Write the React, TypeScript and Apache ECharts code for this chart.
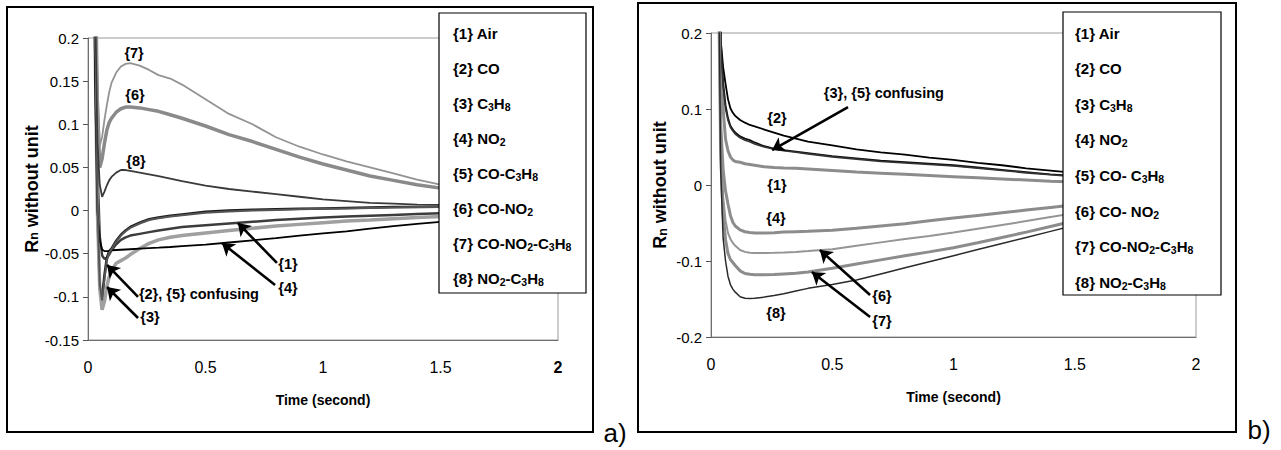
import React, { useEffect, useRef } from 'react';
import * as echarts from 'echarts';

const SANS = "'Liberation Sans', Arial, sans-serif";

// time samples (s), shared by all curves
const TIME = [0.02, 0.03, 0.04, 0.05, 0.06, 0.07, 0.08, 0.09, 0.10, 0.12, 0.14, 0.16, 0.18, 0.22, 0.26, 0.3, 0.35, 0.4, 0.5, 0.6, 0.7, 0.8, 0.9, 1.0, 1.1, 1.2, 1.3, 1.4, 1.5, 1.75, 2.0];

// ---------- panel a ----------
const A_AIR = [0.5, 0.22, 0.05, -0.03, -0.052, -0.056, -0.055, -0.051, -0.046, -0.039, -0.034, -0.031, -0.029, -0.027, -0.025, -0.023, -0.021, -0.019, -0.017, -0.015, -0.013, -0.011, -0.0095, -0.008, -0.007, -0.006, -0.005, -0.004, -0.003, -0.0015, 0.0];
const A_CO = [0.5, 0.2, 0.0, -0.09, -0.1, -0.075, -0.055, -0.047, -0.044, -0.035, -0.028, -0.023, -0.019, -0.014, -0.010, -0.008, -0.006, -0.0045, -0.0015, 0.0, 0.001, 0.0015, 0.002, 0.0025, 0.003, 0.0035, 0.004, 0.0042, 0.0045, 0.005, 0.005];
const A_C3H8 = [0.5, 0.2, 0.0, -0.09, -0.115, -0.105, -0.088, -0.077, -0.07, -0.061, -0.058, -0.055, -0.051, -0.044, -0.038, -0.034, -0.031, -0.029, -0.026, -0.023, -0.0205, -0.018, -0.016, -0.014, -0.012, -0.011, -0.0095, -0.008, -0.007, -0.005, -0.003];
const A_NO2 = [0.5, 0.15, 0.0, -0.035, -0.045, -0.047, -0.047, -0.047, -0.046, -0.0457, -0.0454, -0.0451, -0.0448, -0.0442, -0.0436, -0.043, -0.0422, -0.0413, -0.0395, -0.037, -0.0345, -0.032, -0.029, -0.0265, -0.024, -0.021, -0.018, -0.0155, -0.013, -0.008, -0.004];
const A_CO_C3H8 = [0.5, 0.21, 0.01, -0.085, -0.104, -0.08, -0.058, -0.049, -0.045, -0.036, -0.029, -0.024, -0.020, -0.015, -0.011, -0.009, -0.007, -0.0055, -0.0025, -0.001, 0.0, 0.0008, 0.0015, 0.002, 0.0025, 0.003, 0.0035, 0.004, 0.0042, 0.0046, 0.0048];
const A_CO_NO2 = [0.5, 0.3, 0.12, 0.05, 0.06, 0.078, 0.093, 0.102, 0.107, 0.114, 0.118, 0.120, 0.120, 0.119, 0.117, 0.115, 0.111, 0.107, 0.098, 0.088, 0.080, 0.071, 0.062, 0.054, 0.047, 0.040, 0.035, 0.030, 0.026, 0.016, 0.009];
const A_CO_NO2_C3H8 = [0.5, 0.3, 0.15, 0.075, 0.085, 0.105, 0.122, 0.137, 0.148, 0.160, 0.167, 0.170, 0.171, 0.168, 0.163, 0.157, 0.153, 0.146, 0.129, 0.112, 0.100, 0.085, 0.074, 0.065, 0.057, 0.050, 0.043, 0.036, 0.030, 0.018, 0.010];
const A_NO2_C3H8 = [0.5, 0.25, 0.08, 0.03, 0.016, 0.022, 0.029, 0.035, 0.039, 0.044, 0.047, 0.047, 0.046, 0.044, 0.042, 0.040, 0.037, 0.034, 0.029, 0.025, 0.022, 0.019, 0.016, 0.013, 0.011, 0.009, 0.008, 0.007, 0.0065, 0.004, 0.002];

// ---------- panel b ----------
const B_AIR = [0.6, 0.4, 0.17, 0.1, 0.06, 0.045, 0.037, 0.033, 0.031, 0.030, 0.028, 0.027, 0.026, 0.024, 0.023, 0.0225, 0.022, 0.021, 0.019, 0.017, 0.0155, 0.014, 0.0125, 0.011, 0.0095, 0.008, 0.0065, 0.005, 0.004, 0.002, 0.001];
const B_CO = [0.6, 0.4, 0.19, 0.155, 0.133, 0.113, 0.101, 0.095, 0.091, 0.0855, 0.082, 0.079, 0.077, 0.073, 0.069, 0.065, 0.061, 0.057, 0.052, 0.047, 0.043, 0.040, 0.036, 0.033, 0.029, 0.026, 0.022, 0.019, 0.016, 0.010, 0.006];
const B_C3H8 = [0.6, 0.4, 0.19, 0.135, 0.105, 0.088, 0.078, 0.073, 0.069, 0.064, 0.061, 0.059, 0.056, 0.051, 0.048, 0.046, 0.044, 0.042, 0.038, 0.035, 0.032, 0.030, 0.028, 0.026, 0.023, 0.020, 0.017, 0.014, 0.012, 0.007, 0.004];
const B_NO2 = [0.6, 0.35, 0.08, 0.02, -0.008, -0.025, -0.04, -0.049, -0.054, -0.059, -0.0615, -0.0625, -0.063, -0.063, -0.0628, -0.062, -0.0615, -0.061, -0.0595, -0.057, -0.054, -0.051, -0.047, -0.0435, -0.040, -0.0365, -0.033, -0.0295, -0.026, -0.018, -0.011];
const B_CO_C3H8 = [0.6, 0.4, 0.18, 0.13, 0.1, 0.085, 0.076, 0.071, 0.067, 0.062, 0.059, 0.057, 0.054, 0.050, 0.047, 0.045, 0.043, 0.041, 0.037, 0.034, 0.031, 0.029, 0.027, 0.025, 0.022, 0.019, 0.016, 0.0135, 0.011, 0.0065, 0.0035];
const B_CO_NO2 = [0.6, 0.4, 0.06, -0.015, -0.047, -0.063, -0.071, -0.076, -0.080, -0.0855, -0.088, -0.089, -0.0895, -0.0895, -0.0893, -0.0888, -0.088, -0.087, -0.0845, -0.080, -0.0755, -0.071, -0.067, -0.0625, -0.0575, -0.0525, -0.0475, -0.042, -0.037, -0.026, -0.016];
const B_CO_NO2_C3H8 = [0.6, 0.3, 0.04, -0.04, -0.072, -0.09, -0.098, -0.102, -0.106, -0.113, -0.1165, -0.1175, -0.118, -0.118, -0.1178, -0.117, -0.1162, -0.1145, -0.1095, -0.104, -0.0985, -0.093, -0.088, -0.0825, -0.076, -0.069, -0.062, -0.0545, -0.047, -0.032, -0.02];
const B_NO2_C3H8 = [0.6, 0.35, 0.02, -0.07, -0.1, -0.12, -0.131, -0.137, -0.141, -0.147, -0.149, -0.1495, -0.149, -0.1475, -0.1455, -0.143, -0.1395, -0.136, -0.131, -0.125, -0.117, -0.109, -0.101, -0.093, -0.085, -0.077, -0.069, -0.061, -0.053, -0.036, -0.022];

// series names and their legend labels (rich text for subscripts)
const NAMES_A = ['{1} Air', '{2} CO', '{3} C3H8', '{4} NO2', '{5} CO-C3H8', '{6} CO-NO2', '{7} CO-NO2-C3H8', '{8} NO2-C3H8'];
const LABELS_A = ['{1} Air', '{2} CO', '{3} C{s|3}H{s|8}', '{4} NO{s|2}', '{5} CO-C{s|3}H{s|8}', '{6} CO-NO{s|2}', '{7} CO-NO{s|2}-C{s|3}H{s|8}', '{8} NO{s|2}-C{s|3}H{s|8}'];
const NAMES_B = ['{1} Air', '{2} CO', '{3} C3H8', '{4} NO2', '{5} CO- C3H8', '{6} CO- NO2', '{7} CO-NO2-C3H8', '{8} NO2-C3H8'];
const LABELS_B = ['{1} Air', '{2} CO', '{3} C{s|3}H{s|8}', '{4} NO{s|2}', '{5} CO- C{s|3}H{s|8}', '{6} CO- NO{s|2}', '{7} CO-NO{s|2}-C{s|3}H{s|8}', '{8} NO{s|2}-C{s|3}H{s|8}'];

const VALUES_A = [A_AIR, A_CO, A_C3H8, A_NO2, A_CO_C3H8, A_CO_NO2, A_CO_NO2_C3H8, A_NO2_C3H8];
const VALUES_B = [B_AIR, B_CO, B_C3H8, B_NO2, B_CO_C3H8, B_CO_NO2, B_CO_NO2_C3H8, B_NO2_C3H8];

// axis ranges / ticks
const X_MIN = 0, X_MAX = 2, X_STEP = 0.5;
const YA_MIN = -0.15, YA_MAX = 0.2, YA_STEP = 0.05;
const YB_MIN = -0.2, YB_MAX = 0.2, YB_STEP = 0.1;

// annotations in data units: arrows [tFrom, vFrom, tTo, vTo], labels [text, t, v]
const ARROWS_A = [[0.804, -0.0607, 0.638, -0.0144], [0.796, -0.0862, 0.570, -0.0376], [0.213, -0.100, 0.081, -0.063], [0.213, -0.1245, 0.081, -0.0886]];
const NOTES_A: [string, number, number][] = [['{7}', 0.196, 0.1826], ['{6}', 0.2, 0.134], ['{8}', 0.204, 0.0575], ['{1}', 0.851, -0.0619], ['{4}', 0.851, -0.0897], ['{2}, {5} confusing', 0.472, -0.0967], ['{3}', 0.264, -0.1233]];
const ARROWS_B = [[0.565, 0.1026, 0.252, 0.046], [0.656, -0.1447, 0.449, -0.0855], [0.656, -0.1737, 0.416, -0.1145]];
const NOTES_B: [string, number, number][] = [['{3}, {5} confusing', 0.713, 0.121], ['{2}', 0.272, 0.088], ['{1}', 0.272, 0.0], ['{4}', 0.268, -0.0434], ['{8}', 0.268, -0.168], ['{6}', 0.705, -0.146], ['{7}', 0.705, -0.179]];

const STYLE_A = [
  { color: '#3c3c3c', width: 2.5 },
  { color: '#1e1e1e', width: 2.5 },
  { color: '#a0a0a0', width: 3.5 },
  { color: '#000000', width: 1.8 },
  { color: '#555555', width: 2 },
  { color: '#8a8a8a', width: 3.5 },
  { color: '#939393', width: 1.8 },
  { color: '#3a3a3a', width: 1.8 },
];
const STYLE_B = [
  { color: '#8c8c8c', width: 3 },
  { color: '#000000', width: 1.8 },
  { color: '#111111', width: 1.8 },
  { color: '#8c8c8c', width: 3 },
  { color: '#333333', width: 1.6 },
  { color: '#959595', width: 2 },
  { color: '#8c8c8c', width: 3 },
  { color: '#2a2a2a', width: 1.5 },
];

function buildSeries(names: string[], values: number[][], styles: any[], axisIndex: number) {
  return names.map((name, i) => ({
    type: 'line',
    name,
    xAxisIndex: axisIndex,
    yAxisIndex: axisIndex,
    data: TIME.map((t, k) => [t, values[i][k]]),
    showSymbol: false,
    symbol: 'none',
    silent: true,
    clip: true,
    z: 2,
    lineStyle: { color: styles[i].color, width: styles[i].width },
    itemStyle: { color: styles[i].color },
  }));
}

function annotSeries(arrows: number[][], notes: [string, number, number][], axisIndex: number) {
  return {
    type: 'line',
    name: 'annot' + axisIndex,
    xAxisIndex: axisIndex,
    yAxisIndex: axisIndex,
    data: [],
    silent: true,
    z: 3,
    markLine: {
      silent: true,
      symbol: ['none', 'arrow'],
      symbolSize: 12,
      lineStyle: { color: '#000', width: 2.6, type: 'solid' },
      itemStyle: { color: '#000' },
      label: { show: false },
      emphasis: { disabled: true },
      data: arrows.map((a) => [{ coord: [a[0], a[1]] }, { coord: [a[2], a[3]] }]),
    },
    markPoint: {
      silent: true,
      symbol: 'circle',
      symbolSize: 0,
      itemStyle: { color: 'transparent' },
      label: {
        show: true,
        position: 'inside',
        formatter: (p: any) => p.name,
        color: '#000',
        fontFamily: SANS,
        fontWeight: 'bold',
        fontSize: 14.5,
      },
      data: notes.map((n) => ({ name: n[0], coord: [n[1], n[2]] })),
    },
  };
}

const legendText = {
  fontFamily: SANS,
  fontWeight: 'bold' as const,
  fontSize: 15,
  color: '#000',
  lineHeight: 18,
  rich: {
    s: { fontFamily: SANS, fontWeight: 'bold', fontSize: 10.5, color: '#000', verticalAlign: 'bottom', lineHeight: 6 },
  },
};

const axisNameStyle = {
  fontFamily: SANS,
  fontWeight: 'bold' as const,
  fontSize: 18,
  color: '#000',
  rich: {
    s: { fontFamily: SANS, fontWeight: 'bold', fontSize: 12.5, color: '#000', verticalAlign: 'bottom', lineHeight: 8 },
  },
};

export default function App() {
  const ref = useRef<HTMLDivElement>(null);
  useEffect(() => {
    if (!ref.current) return;
    const chart = echarts.init(ref.current, undefined, { renderer: 'svg' });
    const xAxisBase = (gridIndex: number, boldLast: boolean) => ({
      type: 'value',
      gridIndex,
      min: X_MIN,
      max: X_MAX,
      interval: X_STEP,
      name: 'Time (second)',
      nameLocation: 'middle',
      nameGap: 53,
      nameTextStyle: { fontFamily: SANS, fontWeight: 'bold', fontSize: 14, color: '#000' },
      axisLine: { show: true, onZero: false, lineStyle: { color: '#6e6e6e', width: 1 } },
      axisTick: { show: false },
      splitLine: { show: false },
      axisLabel: {
        margin: 19,
        color: '#000',
        fontFamily: SANS,
        fontSize: 16,
        formatter: (v: number) => (boldLast && v === X_MAX ? '{b|' + v + '}' : String(v)),
        rich: { b: { fontFamily: SANS, fontWeight: 'bold', fontSize: 16, color: '#000' } },
      },
    });
    const yAxisBase = (gridIndex: number, min: number, max: number, step: number, gap: number) => ({
      type: 'value',
      gridIndex,
      min,
      max,
      interval: step,
      name: 'R{s|n} without unit',
      nameLocation: 'middle',
      nameGap: gap,
      nameRotate: 90,
      nameTextStyle: axisNameStyle,
      axisLine: { show: true, onZero: false, lineStyle: { color: '#6e6e6e', width: 1 } },
      axisTick: { show: true, inside: false, length: 5, lineStyle: { color: '#555' } },
      splitLine: { show: false },
      axisLabel: { margin: 9, color: '#000', fontFamily: SANS, fontSize: 15 },
    });
    chart.setOption({
      animation: false,
      backgroundColor: '#fff',
      grid: [
        { left: 88, top: 38, width: 470, height: 302, show: true, borderColor: '#9a9a9a', borderWidth: 1, backgroundColor: 'transparent' },
        { left: 711, top: 33, width: 485, height: 304, show: true, borderColor: '#9a9a9a', borderWidth: 1, backgroundColor: 'transparent' },
      ],
      xAxis: [xAxisBase(0, true), xAxisBase(1, false)],
      yAxis: [yAxisBase(0, YA_MIN, YA_MAX, YA_STEP, 45), yAxisBase(1, YB_MIN, YB_MAX, YB_STEP, 42)],
      legend: [
        {
          data: NAMES_A,
          orient: 'vertical',
          left: 447,
          top: 24,
          padding: 0,
          itemGap: 17,
          itemWidth: 0,
          itemHeight: 0,
          selectedMode: false,
          z: 10,
          itemStyle: { opacity: 0 },
          lineStyle: { opacity: 0 },
          formatter: (n: string) => LABELS_A[NAMES_A.indexOf(n)],
          textStyle: legendText,
        },
        {
          data: NAMES_B,
          orient: 'vertical',
          left: 1069,
          top: 24,
          padding: 0,
          itemGap: 17.6,
          itemWidth: 0,
          itemHeight: 0,
          selectedMode: false,
          z: 10,
          itemStyle: { opacity: 0 },
          lineStyle: { opacity: 0 },
          formatter: (n: string) => LABELS_B[NAMES_B.indexOf(n)],
          textStyle: legendText,
        },
      ],
      graphic: [
        { type: 'rect', z: 1, shape: { x: 7, y: 7, width: 586, height: 425 }, style: { fill: 'none', stroke: '#000', lineWidth: 2 } },
        { type: 'rect', z: 1, shape: { x: 638, y: 3, width: 598, height: 429 }, style: { fill: 'none', stroke: '#000', lineWidth: 2 } },
        { type: 'rect', z: 5, shape: { x: 439, y: 13, width: 147, height: 280 }, style: { fill: '#fff', stroke: '#000', lineWidth: 1.2 } },
        { type: 'rect', z: 5, shape: { x: 1063, y: 12, width: 158, height: 283 }, style: { fill: '#fff', stroke: '#000', lineWidth: 1.2 } },
        { type: 'text', z: 5, x: 615, y: 433, style: { text: 'a)', fontFamily: SANS, fontSize: 26, fill: '#000', align: 'center', verticalAlign: 'middle' } },
        { type: 'text', z: 5, x: 1259, y: 430, style: { text: 'b)', fontFamily: SANS, fontSize: 26, fill: '#000', align: 'center', verticalAlign: 'middle' } },
      ],
      series: [
        ...buildSeries(NAMES_A, VALUES_A, STYLE_A, 0),
        ...buildSeries(NAMES_B, VALUES_B, STYLE_B, 1),
        annotSeries(ARROWS_A, NOTES_A, 0),
        annotSeries(ARROWS_B, NOTES_B, 1),
      ],
    });
    return () => chart.dispose();
  }, []);
  return (
    <div
      ref={ref}
      style={{ position: 'fixed', left: 0, top: 0, width: 1281, height: 450, background: '#fff' }}
    />
  );
}
